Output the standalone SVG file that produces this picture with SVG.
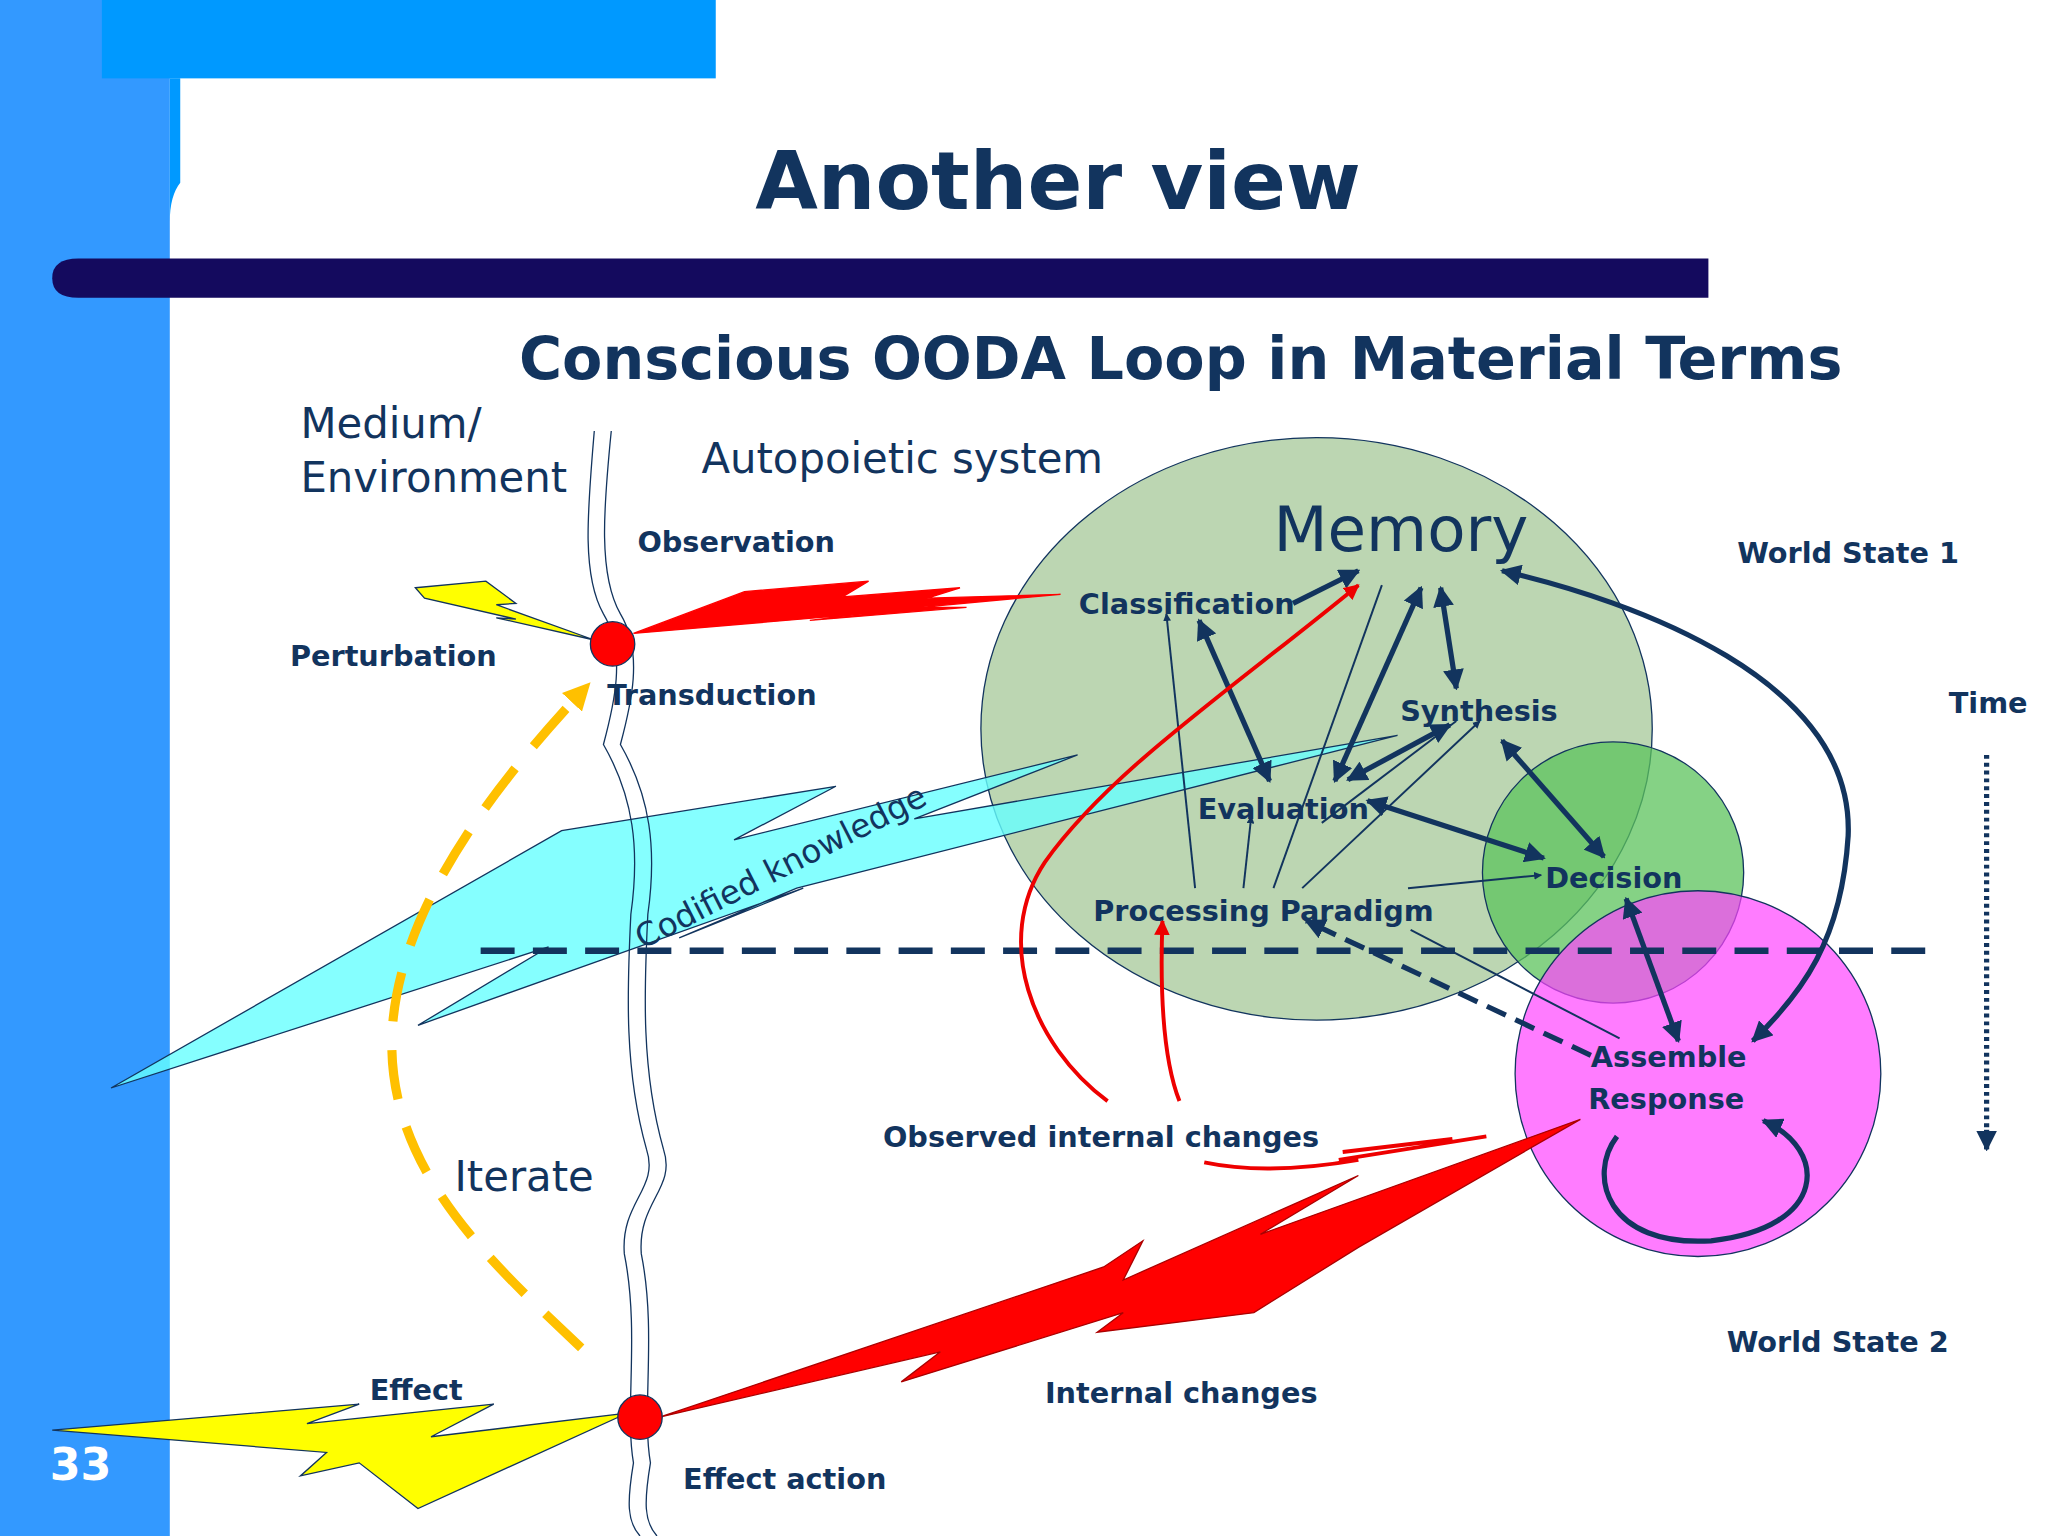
<svg xmlns="http://www.w3.org/2000/svg" width="2048" height="1536" viewBox="0 0 2048 1536">
<defs>
<style>
.t{font-family:"DejaVu Sans",sans-serif;fill:#12345e}
.b{font-weight:bold;font-size:22px}
.n{font-size:32px}
.ar{stroke:#12345e;stroke-width:4;fill:none}
.th{stroke:#12345e;stroke-width:1.5;fill:none}
</style>
<marker id="a" viewBox="0 0 10 10" refX="9" refY="5" markerWidth="4" markerHeight="4" orient="auto-start-reverse"><path d="M0,0L10,5L0,10z" fill="#12345e"/></marker>
<marker id="r" viewBox="0 0 10 10" refX="9" refY="5" markerWidth="4" markerHeight="4" orient="auto"><path d="M0,0L10,5L0,10z" fill="#ee0000"/></marker>
<marker id="y" viewBox="0 0 10 10" refX="5" refY="5" markerWidth="3" markerHeight="3" orient="auto"><path d="M0,0L10,5L0,10z" fill="#ffc000"/></marker>
</defs>
<rect width="2048" height="1536" fill="#fff"/>
<g transform="scale(1.30612)">
<rect x="0" y="0" width="130" height="1176" fill="#3399ff"/>
<rect x="78" y="0" width="470" height="60" fill="#0099ff"/>
<path d="M130,60H138V140Q130,150 130,170Z" fill="#0099ff"/>
<path d="M60,198H1308V228H60Q40,228 40,213Q40,198 60,198Z" fill="#140a5e"/>
<text x="810" y="160" text-anchor="middle" class="t" font-size="62" font-weight="bold">Another view</text>
<text x="904" y="290" text-anchor="middle" class="t" font-size="45" font-weight="bold">Conscious OODA Loop in Material Terms</text>
<text x="38" y="1133" font-family="DejaVu Sans,sans-serif" font-size="34" font-weight="bold" fill="#fff">33</text>

<g id="memory"><ellipse cx="1008" cy="558" rx="257" ry="223" fill="#bcd6b2" stroke="#12345e" stroke-width="1"/><text x="975" y="422" class="t" font-size="48">Memory</text></g>
<g id="decisioncircle"><circle cx="1235" cy="668" r="100" fill="#5cc35c" fill-opacity="0.75" stroke="#12345e" stroke-width="1"/></g>
<g id="assemblecircle"><circle cx="1300" cy="822" r="140" fill="#ff44ff" fill-opacity="0.7" stroke="#12345e" stroke-width="1"/></g>

<g id="cyan"><path d="M85,833L430,636L640,602L562,643L825,578L700,627L1070,563L610,680L520,718L615,680L320,785L420,725Z" fill="#66ffff" fill-opacity="0.8" stroke="#12345e" stroke-width="1"/>
<text transform="translate(492,727) rotate(-27)" class="t" font-size="25">Codified knowledge</text></g>

<g id="boundary" fill="none" stroke="#12345e" stroke-width="1">
<path d="M455,330C450,390 445,440 462,470C480,500 470,540 462,570C485,610 490,650 483,700C480,760 478,820 495,880C505,910 475,920 478,960C490,1020 478,1080 485,1120C480,1150 480,1165 490,1176"/>
<path d="M468,330C462,390 458,440 475,470C493,500 483,540 475,570C498,610 503,650 496,700C493,760 491,820 508,880C518,910 488,920 491,960C503,1020 491,1080 498,1120C493,1150 493,1165 503,1176"/>
</g>

<g id="bolts">
<path d="M318,450L372,445L395,462L380,463L455,490L380,473L395,474L325,458Z" fill="#ffff00" stroke="#12345e" stroke-width="1"/>
<path d="M485,485L570,453L665,445L645,457L735,450L710,458L812,455L705,465L740,465L620,475L660,470Z" fill="#ff0000" stroke="#ff0000" stroke-width="1"/>
<path d="M505,1085L845,970L875,950L860,980L1040,900L965,945L1210,857L1040,955L960,1005L840,1020L860,1005L690,1058L720,1035Z" fill="#ff0000" stroke="#aa0000" stroke-width="1"/>
<path d="M40,1095L275,1075L235,1090L378,1075L330,1100L480,1082L320,1155L275,1120L230,1130L250,1112Z" fill="#ffff00" stroke="#12345e" stroke-width="1"/>
</g>

<g id="connectors">
<line x1="368" y1="728" x2="1475" y2="728" stroke="#12345e" stroke-width="5" stroke-dasharray="26,14"/>
<line x1="1521" y1="578" x2="1521" y2="870" stroke="#12345e" stroke-width="4" stroke-dasharray="3,3"/>
<path d="M1521,865L1521,880" stroke="#12345e" stroke-width="4" marker-end="url(#a)"/>
<path d="M445,1032C380,970 300,900 300,800C300,700 380,600 445,530" fill="none" stroke="#ffc000" stroke-width="7" stroke-dasharray="38,22" marker-end="url(#y)"/>
<path d="M990,462L1040,437" class="ar" marker-end="url(#a)"/>
<path d="M918,475L972,598" class="ar" marker-start="url(#a)" marker-end="url(#a)"/>
<path d="M1088,450L1022,598" class="ar" marker-start="url(#a)" marker-end="url(#a)"/>
<path d="M1103,450L1115,527" class="ar" marker-start="url(#a)" marker-end="url(#a)"/>
<path d="M1110,555L1032,597" class="ar" marker-start="url(#a)" marker-end="url(#a)"/>
<path d="M1150,567L1228,656" class="ar" marker-start="url(#a)" marker-end="url(#a)"/>
<path d="M1047,613L1182,657" class="ar" marker-start="url(#a)" marker-end="url(#a)"/>
<path d="M1245,688L1285,797" class="ar" marker-start="url(#a)" marker-end="url(#a)"/>
<path d="M1150,437C1250,460 1420,520 1415,640C1410,720 1380,760 1342,797" class="ar" marker-start="url(#a)" marker-end="url(#a)"/>
<path d="M1218,808L1000,705" fill="none" stroke="#12345e" stroke-width="4" stroke-dasharray="16,8" marker-end="url(#a)"/>
<path d="M1350,858C1400,880 1400,940 1310,950C1230,955 1215,900 1238,870" class="ar" marker-start="url(#a)"/>
<path d="M915,680L893,470" class="th" marker-end="url(#a)"/>
<path d="M952,680L958,625" class="th" marker-end="url(#a)"/>
<path d="M975,680L1058,448" class="th"/>
<path d="M997,680L1133,552" class="th" marker-end="url(#a)"/>
<path d="M1012,630L1115,552" class="th"/>
<path d="M1078,680L1180,670" class="th" marker-end="url(#a)"/>
<path d="M1080,712L1240,795" class="th"/>
<path d="M848,843C790,800 760,720 800,660C850,590 940,530 1040,448" fill="none" stroke="#ee0000" stroke-width="3" marker-end="url(#r)"/>
<path d="M903,843C890,810 888,760 890,705" fill="none" stroke="#ee0000" stroke-width="3" marker-end="url(#r)"/>
<path d="M922,890C960,898 1000,895 1040,888M1028,882L1112,872M1025,888L1138,870" fill="none" stroke="#ee0000" stroke-width="3"/>
</g>

<circle cx="469" cy="493" r="17" fill="#ff0000" stroke="#12345e" stroke-width="1"/>
<circle cx="490" cy="1085" r="17" fill="#ff0000" stroke="#12345e" stroke-width="1"/>

<g id="labels">
<text x="230" y="335" class="t n">Medium/</text>
<text x="230" y="377" class="t n">Environment</text>
<text x="537" y="362" class="t n">Autopoietic system</text>
<text x="488" y="423" class="t b">Observation</text>
<text x="222" y="510" class="t b">Perturbation</text>
<text x="465" y="540" class="t b">Transduction</text>
<text x="1330" y="431" class="t b">World State 1</text>
<text x="1492" y="546" class="t b">Time</text>
<text x="826" y="470" class="t b">Classification</text>
<text x="1072" y="552" class="t b">Synthesis</text>
<text x="917" y="627" class="t b">Evaluation</text>
<text x="1183" y="680" class="t b">Decision</text>
<text x="837" y="705" class="t b">Processing Paradigm</text>
<text x="1218" y="817" class="t b">Assemble</text>
<text x="1216" y="849" class="t b">Response</text>
<text x="676" y="878" class="t b">Observed internal changes</text>
<text x="348" y="912" class="t n">Iterate</text>
<text x="1322" y="1035" class="t b">World State 2</text>
<text x="283" y="1072" class="t b">Effect</text>
<text x="800" y="1074" class="t b">Internal changes</text>
<text x="523" y="1140" class="t b">Effect action</text>
</g>
</g>
</svg>
